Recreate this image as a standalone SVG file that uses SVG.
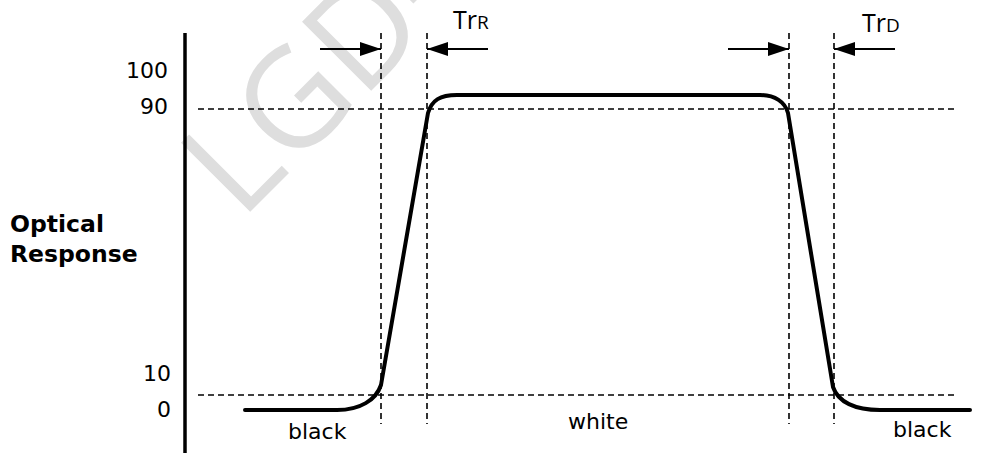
<svg xmlns="http://www.w3.org/2000/svg" width="993" height="453" viewBox="0 0 993 453">
<style>
.dash{stroke:#000;stroke-width:1.6;stroke-dasharray:6,4;fill:none}
.lbl{font-family:"DejaVu Sans",sans-serif;font-size:22px;fill:#000}
.tr{font-family:"Open Sans","DejaVu Sans",sans-serif;fill:#000}
.shaft{stroke:#000;stroke-width:2;fill:none}
.wm{font-family:"Open Sans","Liberation Sans",sans-serif;font-size:137px;fill:#dedede}
.ttl{font-family:"DejaVu Sans",sans-serif;font-weight:bold;font-size:23.5px;fill:#000}
</style>
<defs>
<marker id="ah" markerWidth="21" markerHeight="14" refX="21" refY="7" orient="auto" markerUnits="userSpaceOnUse">
<path d="M0,0 L21,7 L0,14 Z" fill="#000"/>
</marker>
</defs>
<rect width="993" height="453" fill="#fff"/>
<g id="watermark">
<text class="wm" x="-13" y="0" transform="translate(250 212) rotate(-45)">LGD-</text>
</g>
<g id="axis">
<line x1="185" y1="33" x2="185" y2="453" stroke="#000" stroke-width="3.5"/>
</g>
<g id="gridlines">
<line class="dash" x1="198" y1="109" x2="957" y2="109"/>
<line class="dash" x1="198" y1="395" x2="957" y2="395"/>
<line class="dash" x1="381" y1="33" x2="381" y2="424"/>
<line class="dash" x1="427" y1="33" x2="427" y2="424"/>
<line class="dash" x1="789" y1="33" x2="789" y2="424"/>
<line class="dash" x1="834" y1="33" x2="834" y2="424"/>
</g>
<g id="connectors">
<line class="shaft" x1="320" y1="49" x2="381" y2="49" marker-end="url(#ah)"/>
<line class="shaft" x1="488" y1="49" x2="427" y2="49" marker-end="url(#ah)"/>
<line class="shaft" x1="728" y1="49" x2="789" y2="49" marker-end="url(#ah)"/>
<line class="shaft" x1="895" y1="49" x2="834" y2="49" marker-end="url(#ah)"/>
</g>
<g id="curve">
<path d="M245,410 L337,410 C360,410 376,400 381,385 L428,113 C432,100 440,95 457,95 L760,95 C775,95 785,102 788,113 L833,387 C838,402 855,410 880,410 L970,410" fill="none" stroke="#000" stroke-width="4" stroke-linecap="round" stroke-linejoin="round"/>
</g>
<g id="labels">
<text class="lbl" x="168" y="78" text-anchor="end">100</text>
<text class="lbl" x="168" y="114" text-anchor="end">90</text>
<text class="lbl" x="171" y="381" text-anchor="end">10</text>
<text class="lbl" x="171" y="417" text-anchor="end">0</text>
<text class="lbl" x="288" y="439">black</text>
<text class="lbl" x="568" y="429">white</text>
<text class="lbl" x="893" y="437">black</text>
<text class="ttl" x="10" y="232">Optical</text>
<text class="ttl" x="10" y="262">Response</text>
<text class="tr" x="453" y="29"><tspan font-size="25">Tr</tspan><tspan font-size="19">R</tspan></text>
<text class="tr" x="862" y="32"><tspan font-size="25">Tr</tspan><tspan font-size="19">D</tspan></text>
</g>
</svg>
